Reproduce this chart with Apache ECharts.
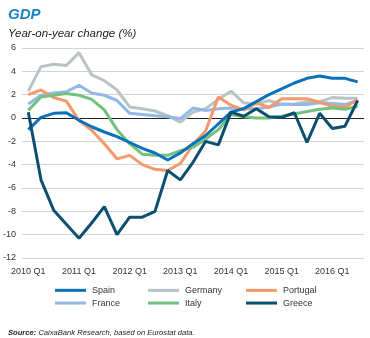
<!DOCTYPE html>
<html><head><meta charset="utf-8">
<script src="https://cdn.jsdelivr.net/npm/echarts@6/dist/echarts.min.js"></script>
<style>html,body{margin:0;padding:0;background:#fff}#c{width:370px;height:338px}</style>
</head><body><div id="c"></div>
<script>
const categories = ['2010 Q1','2010 Q2','2010 Q3','2010 Q4','2011 Q1','2011 Q2','2011 Q3','2011 Q4','2012 Q1','2012 Q2','2012 Q3','2012 Q4','2013 Q1','2013 Q2','2013 Q3','2013 Q4','2014 Q1','2014 Q2','2014 Q3','2014 Q4','2015 Q1','2015 Q2','2015 Q3','2015 Q4','2016 Q1','2016 Q2','2016 Q3'];
const spain    = [-1.0, 0.05, 0.4, 0.45, -0.2, -0.75, -1.2, -1.6, -2.1, -2.6, -3.0, -3.6, -3.0, -2.2, -1.5, -0.5, 0.5, 0.8, 1.4, 2.0, 2.5, 3.0, 3.4, 3.6, 3.4, 3.4, 3.1];
const germany  = [2.3, 4.4, 4.6, 4.5, 5.6, 3.7, 3.2, 2.4, 0.95, 0.8, 0.6, 0.2, -0.35, 0.5, 0.8, 1.6, 2.3, 1.3, 1.2, 1.5, 1.15, 1.2, 1.4, 1.4, 1.75, 1.7, 1.7];
const portugal = [2.0, 2.4, 1.75, 1.45, -0.2, -1.05, -2.2, -3.5, -3.2, -4.0, -4.4, -4.5, -3.9, -2.3, -1.1, 1.8, 1.1, 0.7, 1.3, 0.9, 1.65, 1.65, 1.65, 1.35, 1.0, 0.95, 1.55];
const france   = [1.2, 1.95, 2.15, 2.25, 2.8, 2.15, 1.95, 1.5, 0.4, 0.3, 0.2, 0.1, -0.05, 0.85, 0.65, 0.8, 0.85, 0.8, 0.8, 0.95, 1.2, 1.15, 1.15, 1.3, 1.25, 1.15, 1.5];
const italy    = [0.66, 1.8, 1.95, 2.1, 1.95, 1.6, 0.7, -1.0, -2.2, -3.1, -3.2, -3.2, -2.8, -2.5, -1.8, -1.0, 0.3, 0.1, 0.0, 0.0, 0.15, 0.35, 0.55, 0.75, 0.85, 0.75, 1.0];
const greece   = [0.5, -5.3, -7.9, -9.1, -10.3, -9.0, -7.6, -10.0, -8.5, -8.5, -8.0, -4.5, -5.3, -3.8, -2.0, -2.3, 0.5, 0.15, 0.8, 0.1, 0.05, 0.45, -2.1, 0.4, -0.9, -0.7, 1.5];
const yTicks = [-12, -10, -8, -6, -4, -2, 0, 2, 4, 6];

const colors = {Spain:'#0b72b9', Germany:'#b8c3c6', Portugal:'#f5986a', France:'#92b8e6', Italy:'#73c17f', Greece:'#0c4f6f'};
const font = '"Liberation Sans", Arial, sans-serif';

function line(name, data, z) {
  return {name, type:'line', data, symbol:'none', z,
    lineStyle:{width:3, color:colors[name]}, itemStyle:{color:colors[name]}};
}
const series = [
  line('Germany', germany, 2), line('France', france, 3), line('Portugal', portugal, 4),
  line('Italy', italy, 5), line('Spain', spain, 6), line('Greece', greece, 7)
];
series[0].markLine = {silent:true, symbol:'none', label:{show:false}, z:1,
  lineStyle:{color:'#222', width:1, type:'solid'}, data:[{yAxis:0}]};

function legend(left, names) {
  return {orient:'vertical', left, top:279, padding:5, itemWidth:31, itemHeight:3, itemGap:0,
    icon:'rect', data:names, selectedMode:false,
    textStyle:{fontFamily:font, fontSize:9, color:'#333', lineHeight:12.7, padding:[0,0,0,1]}};
}

const chart = echarts.init(document.getElementById('c'), null, {renderer:'canvas'});
chart.setOption({
  animation:false,
  title:[
    {text:'GDP', left:3, top:2, textStyle:{fontFamily:font, fontSize:15, fontWeight:'bold', fontStyle:'italic', color:'#1a84c7'}},
    {text:'Year-on-year change (%)', left:3, top:23, textStyle:{fontFamily:font, fontSize:11.5, fontWeight:'normal', fontStyle:'italic', color:'#222'}},
    {text:'{b|Source:} CaixaBank Research, based on Eurostat data.', left:3, top:324,
     textStyle:{fontFamily:font, fontSize:7.6, fontStyle:'italic', fontWeight:'normal', color:'#222',
       rich:{b:{fontFamily:font, fontSize:7.6, fontStyle:'italic', fontWeight:'bold', color:'#222'}}}}
  ],
  legend:[legend(50, ['Spain','France']), legend(143, ['Germany','Italy']), legend(241, ['Portugal','Greece'])],
  grid:{left:22, right:6, top:48, bottom:80, containLabel:false},
  xAxis:{type:'category', data:categories, boundaryGap:true,
    axisLine:{show:false}, axisTick:{show:false},
    axisLabel:{interval:3, margin:9, fontFamily:font, fontSize:9, color:'#333'}},
  yAxis:{type:'value', min:yTicks[0], max:yTicks[yTicks.length-1], interval:2,
    axisLine:{show:false}, axisTick:{show:false},
    axisLabel:{margin:6, fontFamily:font, fontSize:9, color:'#333'},
    splitLine:{lineStyle:{color:'#d3d3d3', width:1}}},
  series
});
</script></body></html>
